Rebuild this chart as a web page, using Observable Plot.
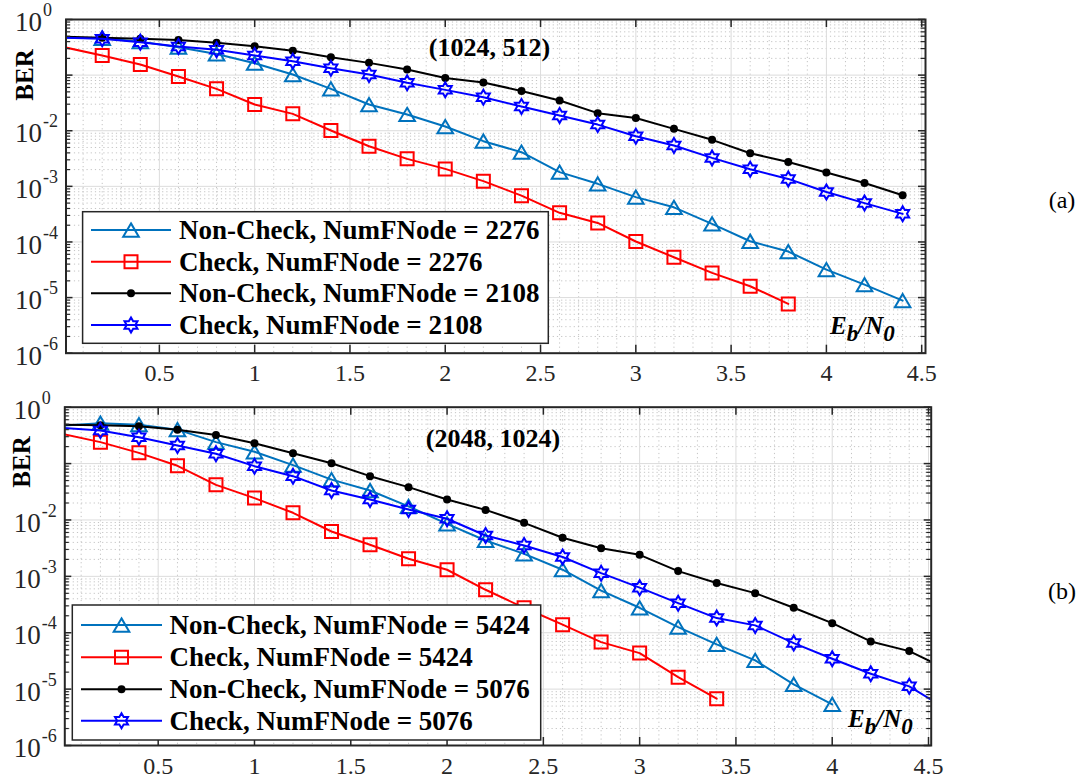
<!DOCTYPE html>
<html><head><meta charset="utf-8">
<script src="https://cdn.jsdelivr.net/npm/d3@7"></script>
<script src="https://cdn.jsdelivr.net/npm/@observablehq/plot@0.6"></script>
<style>
body{margin:0;background:#fff;}
#chart{position:relative;width:1081px;height:784px;background:#fff;overflow:hidden;}
#chart svg{position:absolute;left:0;overflow:visible;}
</style></head><body><div id="chart"></div>
<script>
// ---------- data ----------
const ebn0 = [0,0.2,0.4,0.6,0.8,1,1.2,1.4,1.6,1.8,2,2.2,2.4,2.6,2.8,3,3.2,3.4,3.6,3.8,4,4.2,4.4,4.6];

// (a) (1024, 512)
const a_nonCheck2276 = [0.47,0.46,0.40,0.318,0.24,0.164,0.1025,0.0566,0.0296,0.0196,0.0119,0.00649,0.00411,0.0018,0.00111,0.00064,0.00042,0.000211,0.000103,6.72e-5,3.19e-5,1.71e-5,8.83e-6];
const a_check2276    = [0.318,0.225,0.155,0.0944,0.0566,0.0296,0.0201,0.0101,0.00527,0.00312,0.00206,0.00124,0.00068,0.000334,0.00022,0.000102,5.31e-5,2.78e-5,1.6e-5,7.7e-6];
const a_nonCheck2108 = [0.49,0.468,0.45,0.43,0.38,0.33,0.273,0.21,0.166,0.126,0.089,0.0736,0.052,0.0349,0.0207,0.017,0.0108,0.00686,0.00394,0.00275,0.00177,0.00115,0.00069];
const a_check2108    = [0.47,0.45,0.39,0.327,0.285,0.225,0.178,0.133,0.1025,0.0727,0.0543,0.04,0.0272,0.0188,0.0129,0.00798,0.00542,0.00325,0.00203,0.00136,0.00079,0.0005,0.00032];

// (b) (2048, 1024)
const b_nonCheck5424 = [0.47,0.52,0.49,0.40,0.24,0.162,0.094,0.052,0.0333,0.0174,0.00855,0.00433,0.0025,0.00131,0.00056,0.000277,0.000126,6.21e-5,3.23e-5,1.21e-5,5.35e-6];
const b_check5424    = [0.337,0.24,0.155,0.0914,0.042,0.0244,0.0134,0.00625,0.00363,0.00205,0.00131,0.000578,0.000277,0.000139,6.82e-5,4.35e-5,1.63e-5,6.75e-6];
const b_nonCheck5076 = [0.49,0.48,0.46,0.40,0.32,0.23,0.153,0.1016,0.0598,0.0382,0.0231,0.0151,0.0089,0.00483,0.00316,0.00241,0.00124,0.00076,0.000504,0.000277,0.000148,7.01e-5,4.72e-5,2.2e-5];
const b_check5076    = [0.43,0.386,0.294,0.209,0.149,0.09,0.0598,0.0333,0.0231,0.0153,0.0105,0.0053,0.00353,0.0022,0.00114,0.00063,0.000335,0.000182,0.000135,6.55e-5,3.46e-5,1.87e-5,1.12e-5,4.3e-6];

const legendA = ["Non-Check, NumFNode = 2276","Check, NumFNode = 2276","Non-Check, NumFNode = 2108","Check, NumFNode = 2108"];
const legendB = ["Non-Check, NumFNode = 5424","Check, NumFNode = 5424","Non-Check, NumFNode = 5076","Check, NumFNode = 5076"];

const xTickValues = [0.5,1,1.5,2,2.5,3,3.5,4,4.5];
const xTickLabels = ["0.5","1","1.5","2","2.5","3","3.5","4","4.5"];
const yTickValues = [1,1e-1,1e-2,1e-3,1e-4,1e-5,1e-6];
const yLabelValues = [1,1e-2,1e-3,1e-4,1e-5,1e-6];
const yLabelExps = ["0","-2","-3","-4","-5","-6"];

const colors = ["#0072BD","#FF0000","#000000","#0000FF"];

// ---------- symbols ----------
const symTriangle = {draw(c, size){ const r=Math.sqrt(size/Math.PI); const w=r, h=r*0.85; c.moveTo(0,-h); c.lineTo(w,h); c.lineTo(-w,h); c.closePath(); }};
const symSquare = {draw(c, size){ const r=Math.sqrt(size/Math.PI); c.rect(-r,-r,2*r,2*r); }};
const symHex = {draw(c, size){ const R=Math.sqrt(size/Math.PI); const ri=R/Math.sqrt(3);
  for(let i=0;i<12;i++){ const a=-Math.PI/2+i*Math.PI/6; const rr=i%2===0?R:ri; const x=rr*Math.cos(a), y=rr*Math.sin(a); if(i===0)c.moveTo(x,y); else c.lineTo(x,y);} c.closePath(); }};
const symDot = {draw(c, size){ const r=Math.sqrt(size/Math.PI); c.moveTo(r,0); c.arc(0,0,r,0,2*Math.PI); }};
const styles = [
  {symbol: symTriangle, r: 7.8, fill: "none", sw: 2},
  {symbol: symSquare, r: 6.5, fill: "none", sw: 2},
  {symbol: symDot, r: 4, fill: "#000", sw: 0},
  {symbol: symHex, r: 7.5, fill: "none", sw: 2}
];

// grid helpers
const minorY = [];
for (let e=-6;e<0;e++) for (let k=2;k<=9;k++) minorY.push(k*Math.pow(10,e));
const minorX = d3.range(1,46).map(i=>i/10).filter(v=>Math.abs(v*2-Math.round(v*2))>1e-6);

const FONT = "Liberation Serif, Times New Roman, serif";

function panel(cfg){
  const W=1081, H=cfg.height;
  const fw = W - cfg.ml - cfg.mr, fh = H - cfg.mt - cfg.mb;
  const [x0,x1] = cfg.xDomain;
  const marks = [
    Plot.ruleY(minorY, {y: d=>d, stroke:"#c4c4c4", strokeWidth:1, strokeDasharray:"1.2,3"}),
    Plot.ruleX(minorX, {x: d=>d, stroke:"#c4c4c4", strokeWidth:1, strokeDasharray:"1.2,3"}),
    Plot.ruleY(yTickValues, {y: d=>d, stroke:"#dcdcdc", strokeWidth:1}),
    Plot.ruleX(xTickValues, {x: d=>d, stroke:"#dcdcdc", strokeWidth:1})
  ];
  cfg.series.forEach((vals,i)=>{
    const data = vals.map((v,j)=>({x: ebn0[j], y: v}));
    const st = styles[i];
    marks.push(Plot.line(data, {x:"x", y:"y", stroke: colors[i], strokeWidth: 2, clip: true}));
    marks.push(Plot.dot(data.filter(d=>d.x>x0 && d.x<=x1), {x:"x", y:"y", symbol: st.symbol, r: st.r,
      stroke: st.sw? colors[i] : "none", strokeWidth: st.sw, fill: st.fill}));
  });
  marks.push(
    Plot.frame({stroke:"#262626", strokeWidth:2}),
    Plot.tickY(yTickValues, {y:d=>d, insetRight: fw-7, stroke:"#262626", strokeWidth:1.5}),
    Plot.tickY(yTickValues, {y:d=>d, insetLeft: fw-7, stroke:"#262626", strokeWidth:1.5}),
    Plot.tickY(minorY, {y:d=>d, insetRight: fw-4.5, stroke:"#262626", strokeWidth:1.2}),
    Plot.tickY(minorY, {y:d=>d, insetLeft: fw-4.5, stroke:"#262626", strokeWidth:1.2}),
    Plot.tickX(xTickValues, {x:d=>d, insetTop: fh-8, stroke:"#262626", strokeWidth:1.5}),
    Plot.tickX(xTickValues, {x:d=>d, insetBottom: fh-8, stroke:"#262626", strokeWidth:1.5}),
    Plot.text(xTickValues, {x:d=>d, frameAnchor:"bottom", text:(d,i)=>xTickLabels[i], dy: 28, fontSize: 24, fontFamily: FONT, fill:"#262626"}),
    Plot.text(yLabelValues, {y:d=>d, frameAnchor:"left", text:()=>"10", textAnchor:"end", dx:-24, dy:3, fontSize:27, fontFamily: FONT, fill:"#262626"}),
    Plot.text(yLabelValues, {y:d=>d, frameAnchor:"left", text:(d,i)=>yLabelExps[i], textAnchor:"start", dx:-23, dy:-9, fontSize:18, fontFamily: FONT, fill:"#262626"})
  );
  const svg = Plot.plot({
    width: W, height: H, marginTop: cfg.mt, marginBottom: cfg.mb, marginLeft: cfg.ml, marginRight: cfg.mr,
    x: {domain: cfg.xDomain, axis: null},
    y: {type:"log", domain:[1e-6,1], axis: null},
    style: {background:"transparent", fontFamily: FONT, overflow: "visible"},
    marks
  });
  svg.style.top = cfg.top + "px";
  const g = d3.select(svg).append("g").attr("font-family", FONT).attr("text-anchor","start");
  // legend
  const L = cfg.legend;
  g.append("rect").attr("x",L.x).attr("y",L.y).attr("width",L.w).attr("height",L.h)
    .attr("fill","#fff").attr("stroke","#262626").attr("stroke-width",1.5);
  cfg.labels.forEach((lab,i)=>{
    const yy = L.rows[i];
    g.append("line").attr("x1",L.lx1).attr("x2",L.lx2).attr("y1",yy).attr("y2",yy).attr("stroke",colors[i]).attr("stroke-width",2);
    const st = styles[i];
    g.append("path").attr("transform",`translate(${(L.lx1+L.lx2)/2},${yy})`)
      .attr("d", d3.symbol(st.symbol, Math.PI*st.r*st.r)())
      .attr("fill", st.fill).attr("stroke", st.sw? colors[i]:"none").attr("stroke-width", st.sw);
    g.append("text").attr("x",L.tx).attr("y",yy).attr("dy","0.34em").attr("text-anchor","start").attr("font-size",27).attr("font-weight","bold").attr("fill","#000").text(lab);
  });
  // title
  g.append("text").attr("x",cfg.title.x).attr("y",cfg.title.y).attr("text-anchor","middle").attr("font-size",26).attr("font-weight","bold").attr("fill","#000").text(cfg.title.text);
  // BER
  g.append("text").attr("transform",`translate(${cfg.ber.x},${cfg.ber.y}) rotate(-90)`).attr("text-anchor","middle").attr("font-size",25).attr("font-weight","bold").attr("fill","#000").text("BER");
  // Eb/N0
  const t = g.append("text").attr("x",cfg.eb.x).attr("y",cfg.eb.y).attr("text-anchor","start").attr("font-size",25).attr("font-weight","bold").attr("font-style","italic").attr("fill","#000");
  t.append("tspan").text("E");
  t.append("tspan").attr("dy",7).attr("font-size",23).text("b");
  t.append("tspan").attr("dy",-7).text("/N");
  t.append("tspan").attr("dy",7).attr("font-size",23).text("0");
  // panel tag
  g.append("text").attr("x",cfg.tag.x).attr("y",cfg.tag.y).attr("text-anchor","middle").attr("font-size",24).attr("fill","#000").text(cfg.tag.text);
  return svg;
}

const root = document.getElementById("chart");
root.appendChild(panel({
  top: 0, height: 392, mt: 19, mb: 39.3, ml: 65.5, mr: 156, xDomain: [0.01, 4.52],
  series: [a_nonCheck2276, a_check2276, a_nonCheck2108, a_check2108],
  labels: legendA,
  legend: {x: 82.6, y: 211.7, w: 465.7, h: 131.6, rows: [230, 261.7, 293.3, 325], lx1: 91, lx2: 171, tx: 179},
  title: {text: "(1024, 512)", x: 489.5, y: 56},
  ber: {x: 32.5, y: 75},
  eb: {x: 830, y: 334},
  tag: {text: "(a)", x: 1062, y: 208}
}));
root.appendChild(panel({
  top: 392, height: 392, mt: 14.7, mb: 39, ml: 64.3, mr: 150.3, xDomain: [0.015, 4.514],
  series: [b_nonCheck5424, b_check5424, b_nonCheck5076, b_check5076],
  labels: legendB,
  legend: {x: 72.3, y: 213, w: 468.4, h: 135, rows: [233, 265.3, 297.3, 328.7], lx1: 81, lx2: 162, tx: 169.4},
  title: {text: "(2048, 1024)", x: 493, y: 55},
  ber: {x: 30, y: 70},
  eb: {x: 848, y: 335},
  tag: {text: "(b)", x: 1062, y: 207}
}));
</script></body></html>
